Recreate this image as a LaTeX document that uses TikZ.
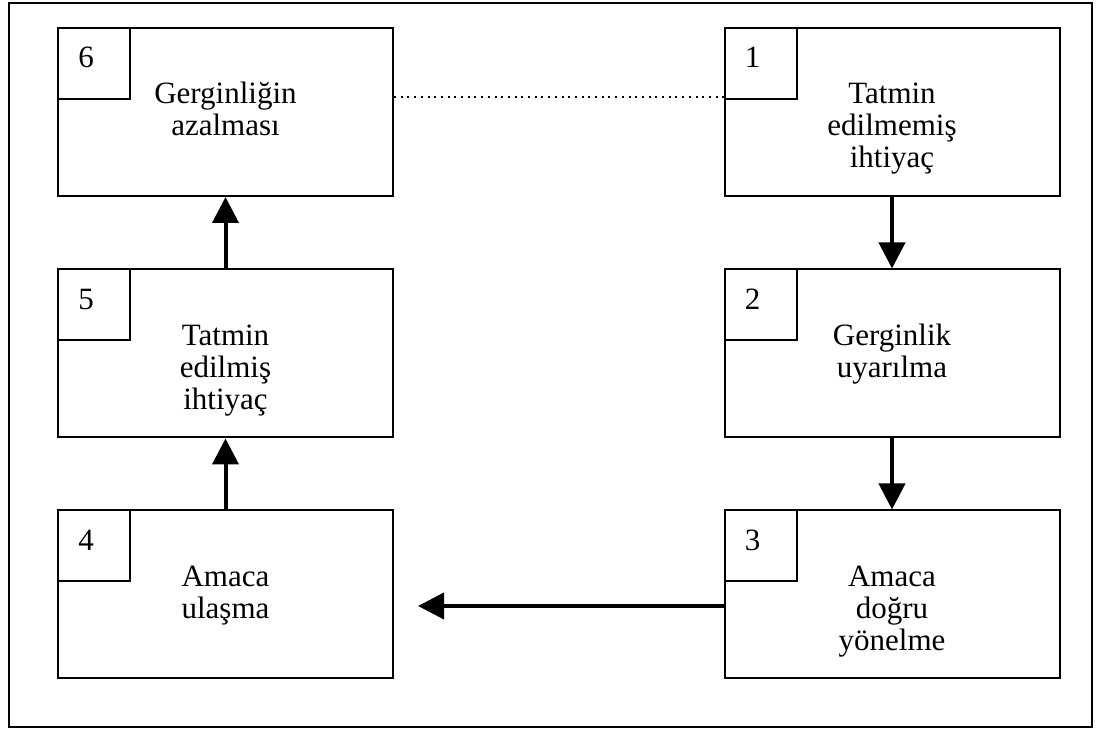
\documentclass[tikz,border=0pt]{standalone}
\usepackage{fontspec}
\setmainfont{Liberation Serif}
\usetikzlibrary{arrows.meta,calc}

\begin{document}
\begin{tikzpicture}[x=0.5pt,y=-0.5pt,
    kutu/.style={draw,line width=1pt,minimum width=167.5pt,minimum height=84pt,inner sep=0pt},
    nokutu/.style={draw,line width=1pt,minimum width=36pt,minimum height=35.5pt,inner sep=0pt,anchor=north west},
    numara/.style={anchor=base west,inner sep=0pt,font=\fontsize{15.5}{16}\selectfont},
    yazi/.style={anchor=base,inner sep=0pt,align=center,font=\fontsize{15.5}{16}\selectfont},
    ok/.style={line width=2pt,-{Triangle[length=13pt,width=13pt]}}]

% Çerçeve
\useasboundingbox (0,0) rectangle (1100,731);
\draw[line width=1pt] (9,3) rectangle (1092,727);

% Kutular
\node[kutu] (b6) at (225.5,112) {};
\node[kutu] (b1) at (892,112) {};
\node[kutu] (b5) at (225.5,353.5) {};
\node[kutu] (b2) at (892,353.5) {};
\node[kutu] (b4) at (225.5,594.5) {};
\node[kutu] (b3) at (892,594.5) {};

% Numara kutuları
\node[nokutu] (n6) at (b6.north west) {};
\node[nokutu] (n1) at (b1.north west) {};
\node[nokutu] (n5) at (b5.north west) {};
\node[nokutu] (n2) at (b2.north west) {};
\node[nokutu] (n4) at (b4.north west) {};
\node[nokutu] (n3) at (b3.north west) {};

\node[numara] (s6) at ($(b6.north west)+(21,41)$) {6};
\node[numara] (s1) at ($(b1.north west)+(21,41)$) {1};
\node[numara] (s5) at ($(b5.north west)+(21,41)$) {5};
\node[numara] (s2) at ($(b2.north west)+(21,41)$) {2};
\node[numara] (s4) at ($(b4.north west)+(21,41)$) {4};
\node[numara] (s3) at ($(b3.north west)+(21,41)$) {3};

% Metinler (son satırın taban çizgisi)
\node[yazi] (t6) at ($(b6.north)+(0,109)$) {Gerginliğin\\azalması};
\node[yazi] (t1) at ($(b1.north)+(0,141)$) {Tatmin\\edilmemiş\\ihtiyaç};
\node[yazi] (t5) at ($(b5.north)+(0,141)$) {Tatmin\\edilmiş\\ihtiyaç};
\node[yazi] (t2) at ($(b2.north)+(0,109)$) {Gerginlik\\uyarılma};
\node[yazi] (t4) at ($(b4.north)+(0,109)$) {Amaca\\ulaşma};
\node[yazi] (t3) at ($(b3.north)+(0,141)$) {Amaca\\doğru\\yönelme};

% Oklar
\draw[ok] (b1.south) -- (b2.north);
\draw[ok] (b2.south) -- (b3.north);
\draw[ok] ([yshift=-5.75pt]b3.west) -- ([xshift=12pt,yshift=-5.75pt]b4.east);
\draw[ok] (b4.north) -- (b5.south);
\draw[ok] (b5.north) -- (b6.south);

% Noktalı çizgi
\draw[line width=1pt,dash pattern=on 1pt off 2.35pt] ([yshift=-35pt]b6.north east) -- ([yshift=-35pt]b1.north west);

\end{tikzpicture}
\end{document}
